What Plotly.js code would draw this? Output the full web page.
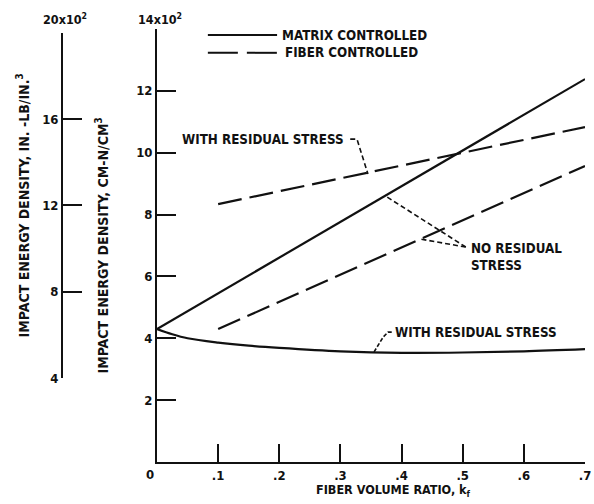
<!DOCTYPE html>
<html><head><meta charset="utf-8">
<script src="https://cdn.plot.ly/plotly-3.0.1.min.js"></script>
<style>body{margin:0;background:#fff}</style>
</head><body>
<div id="chart" style="width:594px;height:504px"></div>
<script>
// Data (values in units of 10^2 CM-N/CM^3)
const matrixNoResX = [0, 0.7];
const matrixNoResY = [4.3, 12.38];
const matrixResX = [0, 0.025, 0.05, 0.1, 0.15, 0.2, 0.3, 0.4, 0.5, 0.6, 0.7];
const matrixResY = [4.3, 4.13, 4.0, 3.86, 3.76, 3.69, 3.58, 3.53, 3.54, 3.58, 3.65];
const fiberResX = [0.1, 0.7];
const fiberResY = [8.34, 10.83];
const fiberNoResX = [0.1, 0.7];
const fiberNoResY = [4.3, 9.57];

const xTickVals = [0.1, 0.2, 0.3, 0.4, 0.5, 0.6, 0.7];
const xTickText = ['.1', '.2', '.3', '.4', '.5', '.6', '.7'];
const yTickVals = [2, 4, 6, 8, 10, 12, 14];
const yTickText = ['2', '4', '6', '8', '10', '12', ''];
const y2TickVals = [4, 8, 12, 16, 20];
const y2TickText = ['4', '8', '12', '16', ''];

const FONT = "'Liberation Sans Narrow', 'DejaVu Sans Condensed', 'Arial Narrow', sans-serif";
const INK = '#111';
const f = (s) => ({family: FONT, size: s, color: INK, weight: 700});

const dashFiber = '24px,8px';
const dashLeader = '5px,3px';

const traces = [
  {x: matrixNoResX, y: matrixNoResY, mode: 'lines', line: {color: INK, width: 2.2}, name: 'Matrix controlled, no residual stress'},
  {x: matrixResX, y: matrixResY, mode: 'lines', line: {color: INK, width: 2.2, shape: 'spline'}, name: 'Matrix controlled, with residual stress'},
  {x: fiberResX, y: fiberResY, mode: 'lines', line: {color: INK, width: 2.2, dash: dashFiber}, name: 'Fiber controlled, with residual stress'},
  {x: fiberNoResX, y: fiberNoResY, mode: 'lines', line: {color: INK, width: 2.2, dash: dashFiber}, name: 'Fiber controlled, no residual stress'},
  {x: [], y: [], yaxis: 'y2', mode: 'lines', showlegend: false, hoverinfo: 'skip'}
];

const axisCommon = {
  showgrid: false, zeroline: false, showline: true, linecolor: INK, linewidth: 2,
  ticks: 'inside', tickcolor: INK, tickwidth: 2, fixedrange: true
};

const layout = {
  width: 594, height: 504,
  margin: {l: 40, r: 9, t: 29, b: 42},
  paper_bgcolor: '#fff', plot_bgcolor: 'rgba(0,0,0,0)',
  showlegend: false, hovermode: false,
  font: f(13),
  xaxis: Object.assign({}, axisCommon, {
    domain: [0.2147, 1], range: [0, 0.7],
    tickmode: 'array', tickvals: xTickVals, ticktext: xTickText,
    ticklen: 18, tickfont: f(13), anchor: 'y'
  }),
  yaxis: Object.assign({}, axisCommon, {
    domain: [0, 1], range: [0, 14],
    tickmode: 'array', tickvals: yTickVals, ticktext: yTickText,
    ticklen: 19, tickfont: f(13), anchor: 'x',
    title: {text: 'IMPACT ENERGY DENSITY, CM-N/CM<sup>3</sup>', font: f(14), standoff: 24}
  }),
  yaxis2: Object.assign({}, axisCommon, {
    domain: [0.194, 0.991], range: [4, 20],
    anchor: 'free', position: 0.0404, side: 'left',
    tickmode: 'array', tickvals: y2TickVals, ticktext: y2TickText,
    ticklen: 19, tickfont: f(13),
    title: {text: 'IMPACT ENERGY DENSITY, IN. -LB/IN.<sup>3</sup>', font: f(14), standoff: 8}
  }),
  shapes: [
    // legend samples
    {type: 'line', xref: 'paper', yref: 'paper', x0: 0.308, x1: 0.435, y0: 0.986, y1: 0.986, line: {color: INK, width: 2}},
    {type: 'line', xref: 'paper', yref: 'paper', x0: 0.308, x1: 0.435, y0: 0.945, y1: 0.945, line: {color: INK, width: 2, dash: '30px,9px'}},
    // leader lines
    {type: 'path', path: 'M 0.316,10.44 L 0.327,10.44 L 0.345,9.31', line: {color: INK, width: 1.6, dash: dashLeader}},
    {type: 'path', path: 'M 0.505,6.95 L 0.376,8.57', line: {color: INK, width: 1.6, dash: dashLeader}},
    {type: 'path', path: 'M 0.505,6.95 L 0.430,7.21', line: {color: INK, width: 1.6, dash: dashLeader}},
    {type: 'path', path: 'M 0.355,3.56 L 0.370,4.04 L 0.378,4.20 L 0.386,4.20', line: {color: INK, width: 1.6, dash: '4px,2px'}}
  ],
  annotations: [
    {xref: 'paper', yref: 'paper', x: 0.440, y: 0.986, xanchor: 'left', yanchor: 'middle', text: 'MATRIX CONTROLLED', showarrow: false, font: f(13.3)},
    {xref: 'paper', yref: 'paper', x: 0.445, y: 0.945, xanchor: 'left', yanchor: 'middle', text: 'FIBER CONTROLLED', showarrow: false, font: f(13.3)},
    {x: 0.038, y: 10.44, xanchor: 'left', yanchor: 'middle', text: 'WITH RESIDUAL STRESS', showarrow: false, font: f(13.3)},
    {x: 0.511, y: 6.62, xanchor: 'left', yanchor: 'middle', align: 'left', text: 'NO RESIDUAL<br>STRESS', showarrow: false, font: f(13.3)},
    {x: 0.386, y: 4.2, xanchor: 'left', yanchor: 'middle', text: 'WITH RESIDUAL STRESS', showarrow: false, font: f(13.3)},
    {xref: 'paper', yref: 'paper', x: 0.220, y: 1.023, xanchor: 'center', yanchor: 'middle', text: '14x10<sup>2</sup>', showarrow: false, font: f(12.5)},
    {xref: 'paper', yref: 'paper', x: 0.046, y: 1.023, xanchor: 'center', yanchor: 'middle', text: '20x10<sup>2</sup>', showarrow: false, font: f(12.5)},
    {xref: 'paper', yref: 'paper', x: 0.202, y: -0.030, xanchor: 'center', yanchor: 'middle', text: '0', showarrow: false, font: f(13)},
    {xref: 'paper', yref: 'paper', x: 0.648, y: -0.066, xanchor: 'center', yanchor: 'middle', text: 'FIBER VOLUME RATIO, k<sub>f</sub>', showarrow: false, font: f(12.5)}
  ]
};

Plotly.newPlot('chart', traces, layout, {staticPlot: true, displayModeBar: false});
</script>
</body></html>
